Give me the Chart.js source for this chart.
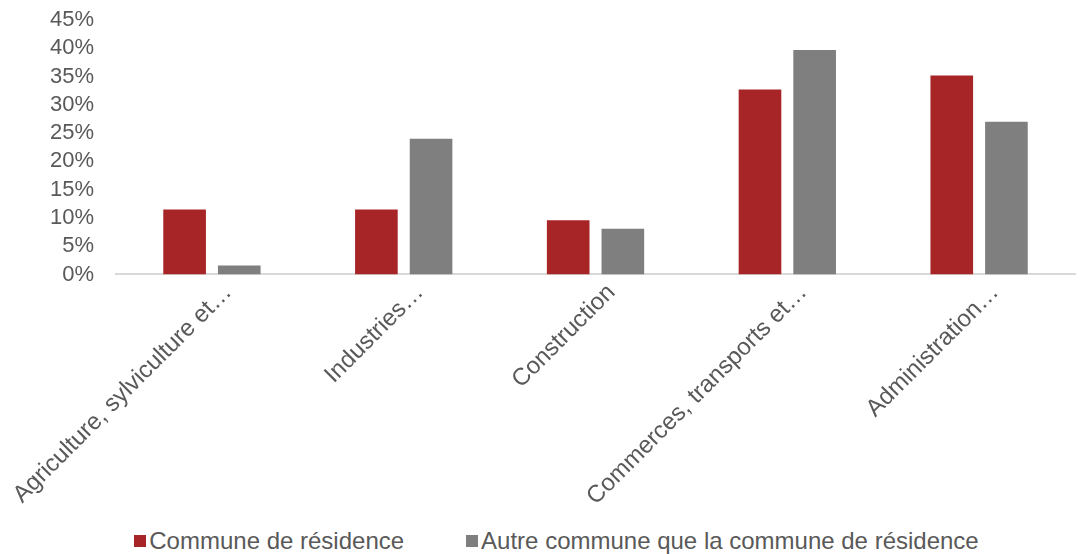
<!DOCTYPE html>
<html>
<head>
<meta charset="utf-8">
<script src="https://cdn.jsdelivr.net/npm/chart.js@4/dist/chart.umd.min.js"></script>
<style>
    body { margin: 0; background: #fff; font-family: "Liberation Sans", Arial, sans-serif; overflow: hidden; }
    #wrap { position: relative; width: 1081px; height: 515px; }
    #legend { display: flex; justify-content: center; gap: 62px; height: 52px; align-items: center;
              font-size: 24px; color: #595959; margin-left: 32px; }
    .item { display: flex; align-items: center; }
    .box { width: 12px; height: 12px; margin-right: 3px; }
</style>
</head>
<body>
<div id="wrap"><canvas id="chart"></canvas></div>
<div id="legend"></div>
<script>
const categories = [
    'Agriculture, sylviculture et…',
    'Industries…',
    'Construction',
    'Commerces, transports et…',
    'Administration…'
];
const seriesNames = ['Commune de résidence', 'Autre commune que la commune de résidence'];
const communeResidence = [11.5, 11.5, 9.6, 32.7, 35.2];
const autreCommune = [1.6, 24.0, 8.1, 39.7, 27.0];
const seriesColors = ['#A72527', '#7F7F7F'];

const datasets = [communeResidence, autreCommune].map((values, i) => ({
    label: seriesNames[i],
    data: values,
    backgroundColor: seriesColors[i],
    categoryPercentage: 0.57,
    barPercentage: 0.78
}));

new Chart(document.getElementById('chart'), {
    type: 'bar',
    data: { labels: categories, datasets: datasets },
    options: {
        responsive: true,
        maintainAspectRatio: false,
        animation: false,
        layout: { padding: { top: 20, right: 6, left: 28, bottom: 0 } },
        plugins: {
            legend: { display: false },
            tooltip: { enabled: false }
        },
        scales: {
            x: {
                grid: { display: false, drawTicks: false },
                border: { color: '#D9D9D9', width: 2 },
                ticks: {
                    color: '#595959',
                    font: { family: 'Liberation Sans', size: 24 },
                    minRotation: 45,
                    maxRotation: 45,
                    padding: 4,
                    labelOffset: 16,
                    autoSkip: false
                },
                // rotated labels are shifted right, so no extra room is needed on the sides
                afterFit: scale => {
                    scale.paddingLeft = 0;
                    scale.paddingRight = 0;
                }
            },
            y: {
                min: 0,
                max: 45,
                grid: { display: false, drawTicks: false },
                border: { display: false },
                ticks: {
                    stepSize: 5,
                    autoSkip: false,
                    color: '#595959',
                    font: { family: 'Liberation Sans', size: 22 },
                    padding: 22,
                    callback: v => v + '%'
                },
                afterFit: scale => {
                    scale.paddingTop = 0;
                    scale.paddingBottom = 0;
                }
            }
        }
    }
});

// Legend built from the same series
const legend = document.getElementById('legend');
seriesNames.forEach((name, i) => {
    const item = document.createElement('div');
    item.className = 'item';
    item.innerHTML = `<span class="box" style="background:${seriesColors[i]}"></span><span>${name}</span>`;
    legend.appendChild(item);
});
</script>
</body>
</html>
